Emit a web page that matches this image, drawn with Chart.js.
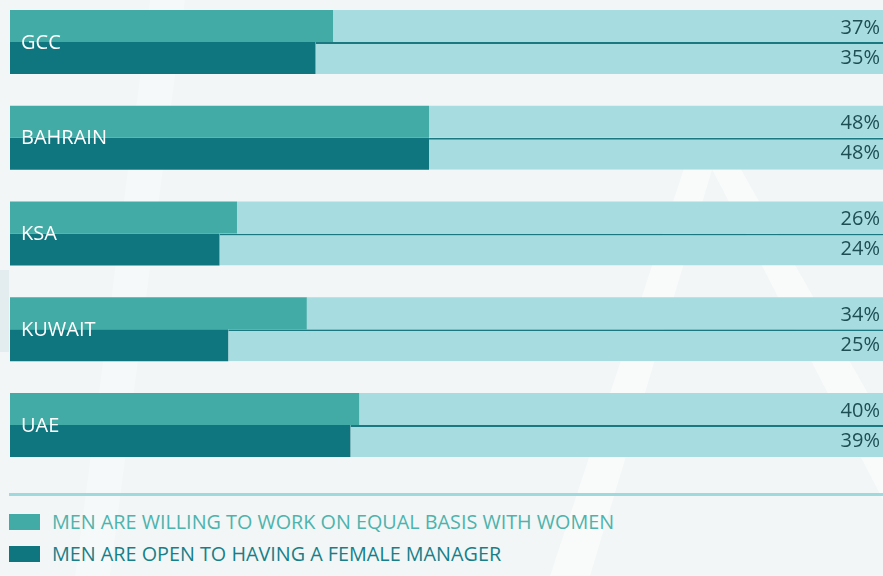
<!DOCTYPE html>
<html>
<head>
<meta charset="utf-8">
<script src="https://cdn.jsdelivr.net/npm/chart.js@4/dist/chart.umd.min.js"></script>
<style>
  html, body { margin: 0; padding: 0; }
  body {
    width: 883px; height: 576px; overflow: hidden; position: relative;
    background: #f2f6f7; font-family: 'Open Sans', sans-serif;
  }
  #decor { position: absolute; left: 0; top: 0; }
  #wrap { position: absolute; left: 0; top: -6px; width: 883px; height: 479px; }
  #rule { position: absolute; left: 9px; top: 493px; width: 874px; height: 3px; background: #9fd8dd; }
  .item { position: absolute; left: 9px; height: 16px; }
  .item span.box { width: 31px; height: 16px; display: inline-block; }
  .item span.txt { position: absolute; left: 43px; top: 50%; transform: translateY(-50%); white-space: nowrap; font-size: 19.8px; }
</style>
</head>
<body>
<svg id="decor" width="883" height="576">
  <polygon points="150,0 185,0 110,576 75,576" fill="#ffffff" opacity="0.3"/>
  <polygon points="690,150 718,150 590,576 550,576" fill="#ffffff" opacity="0.5"/>
  <polygon points="702,150 730,150 883,420 883,500" fill="#ffffff" opacity="0.5"/>
  <rect x="0" y="270" width="9" height="82" fill="#e3edf0"/>
</svg>
<div id="wrap"><canvas id="chart"></canvas></div>
<div id="rule"></div>
<div class="item" style="top:513px"><span class="box" style="background:#42aba5"></span><span class="txt" style="color:#4db3ac">MEN ARE WILLING TO WORK ON EQUAL BASIS WITH WOMEN</span></div>
<div class="item" style="top:545px"><span class="box" style="background:#0f757e"></span><span class="txt" style="color:#177f88">MEN ARE OPEN TO HAVING A FEMALE MANAGER</span></div>
<script>
const countries = ['GCC', 'BAHRAIN', 'KSA', 'KUWAIT', 'UAE']
const willingEqual = [37, 48, 26, 34, 40]
const openFemaleManager = [35, 48, 24, 25, 39]

// percentages at the right end, country names inside the bars
const barLabels = {
  id: 'barLabels',
  afterDatasetsDraw(chart) {
    const { ctx, chartArea } = chart
    const yScale = chart.scales.y
    ctx.save()
    ctx.textBaseline = 'middle'

    ctx.font = '20px "Open Sans"'
    ctx.fillStyle = '#1d4e54'
    ctx.textAlign = 'right'
    ;[0, 2].forEach((di) => {
      const meta = chart.getDatasetMeta(di)
      const values = chart.data.datasets[di].data
      meta.data.forEach((bar, i) => {
        ctx.fillText(values[i] + '%', chartArea.right - 3, bar.y + (di === 0 ? 2 : 0))
      })
    })

    ctx.font = '20px "Open Sans"'
    ctx.fillStyle = '#ffffff'
    ctx.textAlign = 'left'
    chart.data.labels.forEach((label, i) => {
      ctx.fillText(label, chartArea.left + 11, yScale.getPixelForValue(i) + 1)
    })
    ctx.restore()
  },
}

new Chart(document.getElementById('chart'), {
  type: 'bar',
  data: {
    labels: countries,
    datasets: [
      {
        data: willingEqual,
        stack: 'willing',
        backgroundColor: '#42aba5',
      },
      {
        data: willingEqual.map((v) => 100 - v),
        stack: 'willing',
        backgroundColor: '#a7dce1',
      },
      {
        data: openFemaleManager,
        stack: 'open',
        backgroundColor: '#0f757e',
      },
      {
        data: openFemaleManager.map((v) => 100 - v),
        stack: 'open',
        backgroundColor: '#a7dce1',
        borderColor: '#1b7880',
        borderWidth: { top: 2, left: 0, right: 0, bottom: 0 },
        borderSkipped: false,
      },
    ],
  },
  options: {
    indexAxis: 'y',
    responsive: true,
    maintainAspectRatio: false,
    animation: false,
    categoryPercentage: 0.668,
    barPercentage: 1,
    layout: { padding: { left: 10, right: 0, top: 0, bottom: 0 } },
    plugins: { legend: { display: false }, tooltip: { enabled: false } },
    scales: {
      x: { stacked: true, min: 0, max: 100, display: false },
      y: { stacked: true, display: false },
    },
  },
  plugins: [barLabels],
})
</script>
</body>
</html>
